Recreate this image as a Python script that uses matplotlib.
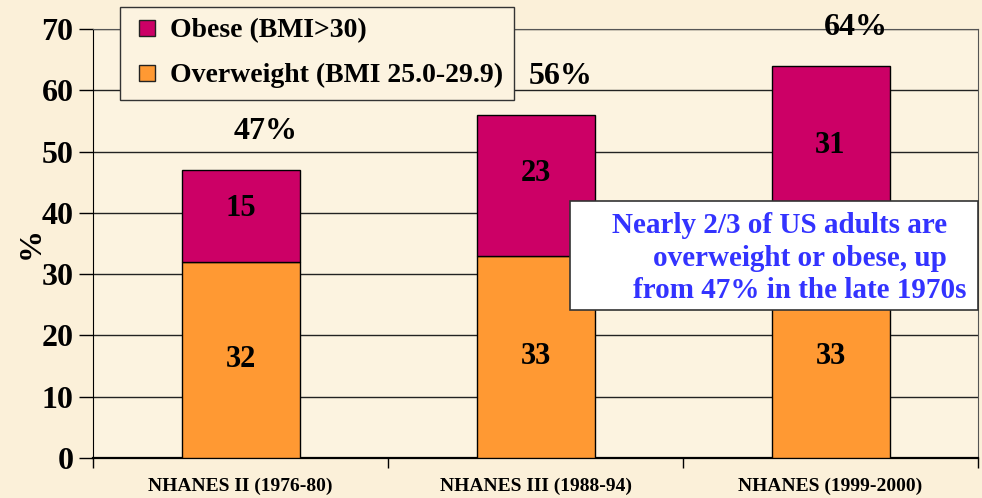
import numpy as np
import matplotlib.pyplot as plt
from matplotlib.patches import Rectangle
from matplotlib.lines import Line2D

# data
surveys = ['NHANES II (1976-80)', 'NHANES III (1988-94)', 'NHANES (1999-2000)']
overweight = [32, 33, 33]
obese = [15, 23, 31]
totals = ['47%', '56%', '64%']
yticks = [0, 10, 20, 30, 40, 50, 60, 70]
note = ['Nearly 2/3 of US adults are', 'overweight or obese, up', 'from 47% in the late 1970s']

orange = '#FF9933'
crimson = '#CC0066'
bg = '#FBF0D9'

plt.rcParams['font.family'] = 'Liberation Serif'
plt.rcParams['font.weight'] = 'bold'

fig = plt.figure(figsize=(9.82, 4.98), dpi=100, facecolor=bg)
ax = fig.add_axes([0.0947, 0.0803, 0.9013, 0.8615])
ax.set_facecolor('#FCF3E0')

x = np.arange(len(surveys)) + 0.5
ax.bar(x, overweight, width=0.4, color=orange, edgecolor='black', linewidth=1, zorder=3)
ax.bar(x, obese, width=0.4, bottom=overweight, color=crimson, edgecolor='black', linewidth=1,
       zorder=3)

for i in range(len(x)):
    ax.text(x[i], overweight[i] * 0.5, str(overweight[i]), ha='center', va='center',
            fontsize=22, fontweight='bold', zorder=4)
    ax.text(x[i], overweight[i] + obese[i] * 0.58, str(obese[i]), ha='center', va='center',
            fontsize=22, fontweight='bold', zorder=4)
    # totals sit a little right of the bar centre on the slide
    ax.text(x[i] + 0.085, overweight[i] + obese[i] + 6.2, totals[i], ha='center', va='center',
            fontsize=23, fontweight='bold', zorder=4)

ax.set_xlim(0, 3)
ax.set_ylim(0, 70)
ax.set_yticks(yticks)
ax.tick_params(axis='y', labelsize=23, length=10, width=1, direction='out', pad=4)
ax.set_xticks(x)
ax.set_xticklabels(surveys, fontsize=14, fontweight='bold')
ax.set_xticks([0, 1, 2, 3], minor=True)
ax.tick_params(axis='x', which='major', length=0, pad=14)
ax.tick_params(axis='x', which='minor', length=7, width=1, direction='out')
ax.set_ylabel('%', fontsize=23, fontweight='bold', labelpad=-3)

ax.grid(axis='y', color='#222222', linewidth=1, zorder=0)
ax.spines['left'].set_color('black')
ax.spines['bottom'].set_color('black')
ax.spines['bottom'].set_linewidth(1.6)
ax.spines['top'].set_color('#555555')
ax.spines['right'].set_color('#555555')

handles = [Line2D([], [], marker='s', markersize=11, markerfacecolor=crimson,
                  markeredgecolor='#222222', linestyle='none'),
           Line2D([], [], marker='s', markersize=11, markerfacecolor=orange,
                  markeredgecolor='#222222', linestyle='none')]
labels = ['Obese (BMI>30)', 'Overweight (BMI 25.0-29.9)']
leg = fig.legend(handles, labels, loc='upper left',
                 bbox_to_anchor=(120 / 982, 1 - 7 / 498), fontsize=20, frameon=True,
                 fancybox=False, edgecolor='#333333', facecolor='#FCF3E0', framealpha=1,
                 handlelength=1.15, handletextpad=0.25, labelspacing=0.7,
                 borderpad=0.4, borderaxespad=0)
leg.get_frame().set_linewidth(1)
leg.set_zorder(5)

# annotation box
fig.patches.append(Rectangle((570 / 982, 1 - 310 / 498), 408 / 982, 109 / 498,
                             transform=fig.transFigure, facecolor='white',
                             edgecolor='#333333', linewidth=1.2, zorder=6))
for line, lx, ly in zip(note, [612, 653, 633], [225, 258, 290]):
    fig.text(lx / 982, 1 - ly / 498, line, ha='left', va='center', fontsize=21,
             fontweight='bold', color='#3333FF', zorder=7)

fig.savefig('out.png', dpi=100, facecolor=bg)
